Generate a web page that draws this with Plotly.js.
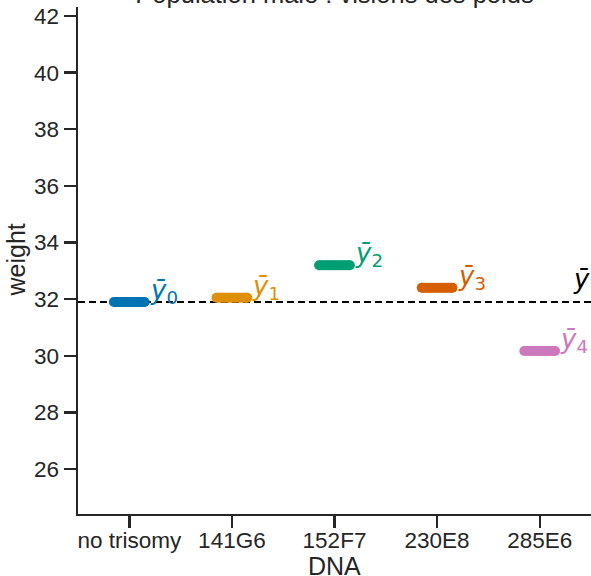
<!DOCTYPE html>
<html>
<head>
<meta charset="utf-8">
<script src="https://cdn.plot.ly/plotly-3.0.1.min.js"></script>
<style>body{margin:0;padding:0;background:#fff;}#chart{width:591px;height:576px;}</style>
</head>
<body>
<div id="chart"></div>
<script>
// ---- data ----
const categories = ["no trisomy", "141G6", "152F7", "230E8", "285E6"];
const groupMeans = [31.90, 32.05, 33.20, 32.40, 30.17];
const overallMean = 31.90;
const groupLabels = ["0", "1", "2", "3", "4"];
const colors = ["#0173B2", "#DE8F05", "#029E73", "#D55E00", "#CC78BC"];
const titleText = "Population male : visions des poids";
const xTitle = "DNA";
const yTitle = "weight";

// ---- styles ----
const textColor = "#262626";
const halfLen = 0.15;   // half length of mean segment (caps add the rest)
const barThick = 10;
const labelSize = 26;

const traces = categories.map((c, i) => ({
  type: "scatter",
  mode: "lines+markers",
  x: [i - halfLen, i + halfLen],
  y: [groupMeans[i], groupMeans[i]],
  line: {color: colors[i], width: barThick},
  marker: {color: colors[i], size: barThick, line: {width: 0}},
  hoverinfo: "skip",
  showlegend: false
}));

const annotations = categories.map((c, i) => ({
  x: i + 0.2,
  y: groupMeans[i],
  xref: "x", yref: "y",
  text: "<i>ȳ</i><sub>" + groupLabels[i] + "</sub>",
  showarrow: false,
  xanchor: "left",
  yanchor: "bottom",
  xshift: -2,
  yshift: -8,
  font: {family: "DejaVu Sans", size: labelSize, color: colors[i]}
}));
annotations.push({
  x: 1, xref: "paper",
  y: overallMean, yref: "y",
  text: "<i>ȳ</i>",
  showarrow: false,
  xanchor: "right",
  yanchor: "bottom",
  xshift: 1,
  yshift: 6,
  font: {family: "DejaVu Sans", size: labelSize, color: "#000000"}
});
// axis titles
annotations.push({
  x: 0.5, xref: "paper", y: 0, yref: "paper",
  text: xTitle, showarrow: false,
  xanchor: "center", yanchor: "top", yshift: -36,
  font: {size: 25, color: textColor}
});
annotations.push({
  x: 0, xref: "paper", y: 0.5, yref: "paper",
  text: yTitle, showarrow: false, textangle: -90,
  xanchor: "right", yanchor: "middle", xshift: -47,
  font: {size: 25, color: textColor}
});

const layout = {
  width: 591,
  height: 576,
  margin: {l: 78, r: 0, t: 7, b: 62, pad: 0},
  paper_bgcolor: "#ffffff",
  plot_bgcolor: "#ffffff",
  font: {family: "Liberation Sans, Arial, sans-serif", color: textColor, size: 22.5},
  title: {
    text: titleText,
    font: {size: 25.5, color: textColor},
    x: 0.566, xanchor: "center",
    xref: "container",
    yref: "container", y: 1 - 3/576, yanchor: "bottom"
  },
  xaxis: {
    range: [-0.5, 4.5],
    tickmode: "array",
    tickvals: categories.map((c, i) => i),
    ticktext: categories,
    showline: true, linecolor: textColor, linewidth: 2.4,
    ticks: "outside", ticklen: 12, tickwidth: 2.4, tickcolor: textColor,
    showgrid: false, zeroline: false,
    tickfont: {size: 22.5, color: textColor},
    ticklabelstandoff: -7,
    automargin: false,
    fixedrange: true
  },
  yaxis: {
    range: [24.41, 42.32],
    tick0: 26, dtick: 2,
    showline: true, linecolor: textColor, linewidth: 2.4,
    ticks: "outside", ticklen: 12, tickwidth: 2.4, tickcolor: textColor,
    showgrid: false, zeroline: false,
    tickfont: {size: 22.5, color: textColor},
    automargin: false,
    fixedrange: true
  },
  shapes: [{
    type: "line", xref: "paper", yref: "y",
    x0: 0, x1: 1, y0: overallMean, y1: overallMean,
    line: {color: "#000000", width: 2, dash: "7px,4px"},
    layer: "below"
  }],
  annotations: annotations,
  showlegend: false
};

Plotly.newPlot("chart", traces, layout, {displayModeBar: false, staticPlot: true});
</script>
</body>
</html>
